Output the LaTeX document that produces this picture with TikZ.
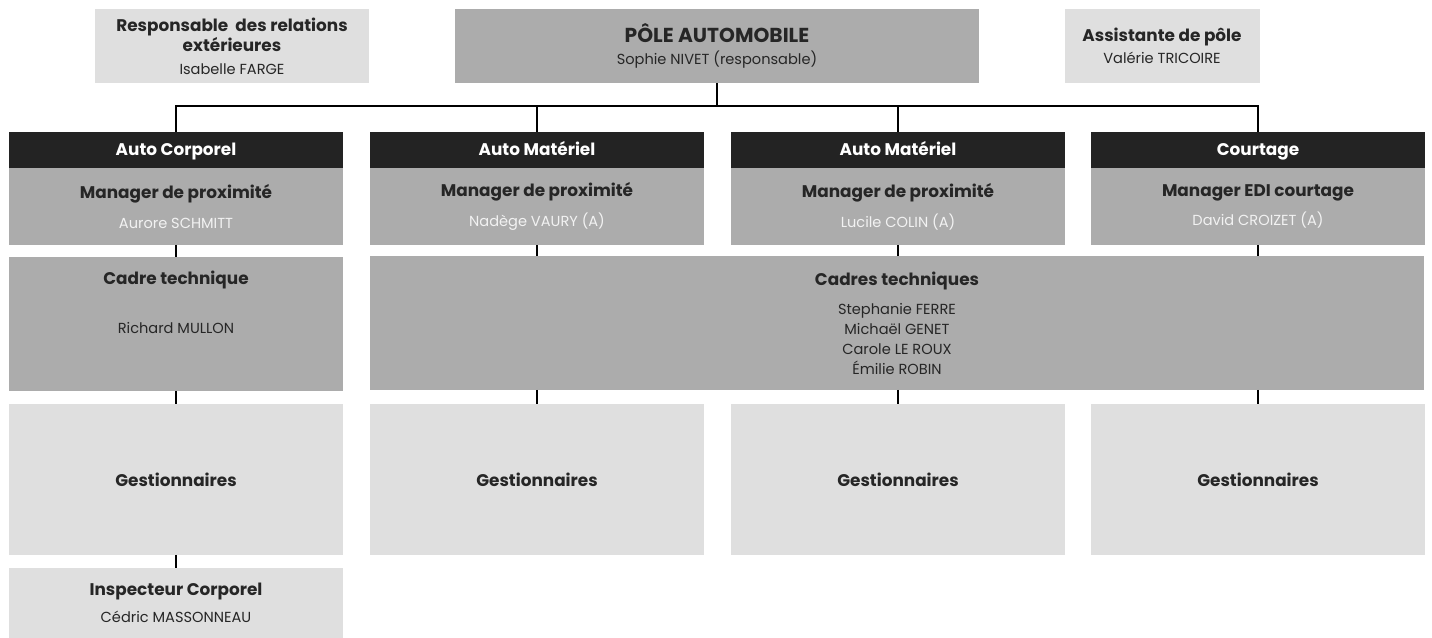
\documentclass[tikz,border=0pt]{standalone}
\usepackage{fontspec}
\setmainfont{Poppins}
\usetikzlibrary{positioning}
\definecolor{barfill}{RGB}{35,35,35}
\definecolor{midfill}{RGB}{172,172,172}
\definecolor{lightfill}{RGB}{223,223,223}
\newcommand{\ttl}[1]{{\bfseries\fontsize{9.6}{11.4}\selectfont #1}}

\begin{document}
\begin{tikzpicture}[x=0.02cm, y=-0.02cm,
  font=\fontsize{8.3}{11.4}\selectfont,
  bx/.style={inner sep=0pt, outer sep=0pt, align=center, text=black!85},
  lt/.style={bx, fill=lightfill},
  md/.style={bx, fill=midfill},
  hdr/.style={bx, fill=barfill, text=white, minimum width=6.7cm,
    minimum height=0.72cm, text height=1.6ex, text depth=0.4ex},
  mgr/.style={md, minimum width=6.7cm, minimum height=1.54cm},
  gst/.style={lt, minimum width=6.7cm, minimum height=3.02cm},
  ln/.style={line width=1.1pt, black},
]
\useasboundingbox (0,0) rectangle (1432,638);
% top row
\node[lt, minimum width=5.5cm, minimum height=1.5cm] (resp) at (232,46)
  {\ttl{Responsable\ \ des relations}\\\ttl{extérieures}\\[1.5pt]Isabelle FARGE};
\node[md, minimum width=10.5cm, minimum height=1.5cm] (pole) at (717,46)
  {{\bfseries\fontsize{11.5}{12}\selectfont PÔLE AUTOMOBILE}\\[1pt]Sophie NIVET (responsable)};
\node[lt, minimum width=3.9cm, minimum height=1.5cm] (asst) at (1162,46)
  {\ttl{Assistante de pôle}\\[1pt]Valérie TRICOIRE};
\coordinate (bus) at (717,106);
% columns
\foreach \i/\x/\hd/\mt/\mn in {
    1/176/Auto Corporel/Manager de proximité/Aurore SCHMITT,
    2/537/Auto Matériel/Manager de proximité/Nadège VAURY (A),
    3/898/Auto Matériel/Manager de proximité/Lucile COLIN (A),
    4/1258/Courtage/Manager EDI courtage/David CROIZET (A)} {
  \node[hdr] (hd\i) at (\x,150) {\ttl{\hd}};
  \node[mgr, below=0pt of hd\i] (mg\i) {\ttl{\mt}\\[5.6pt]{\color{white!95!black}\mn}};
  \node[gst] (ge\i) at (\x,479.5) {\ttl{Gestionnaires}};
}
\node[md, minimum width=6.7cm, minimum height=2.68cm] (cad1) at (176,324) {};
\node[bx, below=8pt of cad1.north] (cad1t)
  {\ttl{Cadre technique}\\[16.6pt]Richard MULLON};
\node[md, minimum width=21.08cm, minimum height=2.68cm] (cads) at (897,323)
  {\ttl{Cadres techniques}\\[5pt]Stephanie FERRE\\Michaël GENET\\Carole LE ROUX\\Émilie ROBIN};
\node[lt, minimum width=6.7cm, minimum height=1.42cm] (insp) at (176,603)
  {\ttl{Inspecteur Corporel}\\[4pt]Cédric MASSONNEAU};
% links
\draw[ln] (pole.south) -- (bus);
\foreach \i in {1,...,4} \draw[ln] (bus) -| (hd\i.north);
\draw[ln] (mg1.south) -- (cad1.north);
\foreach \i in {2,3,4} \draw[ln] (mg\i.south) -- (mg\i.south |- cads.north);
\draw[ln] (cad1.south) -- (ge1.north);
\foreach \i in {2,3,4} \draw[ln] (ge\i.north |- cads.south) -- (ge\i.north);
\draw[ln] (ge1.south) -- (insp.north);
\end{tikzpicture}
\end{document}
